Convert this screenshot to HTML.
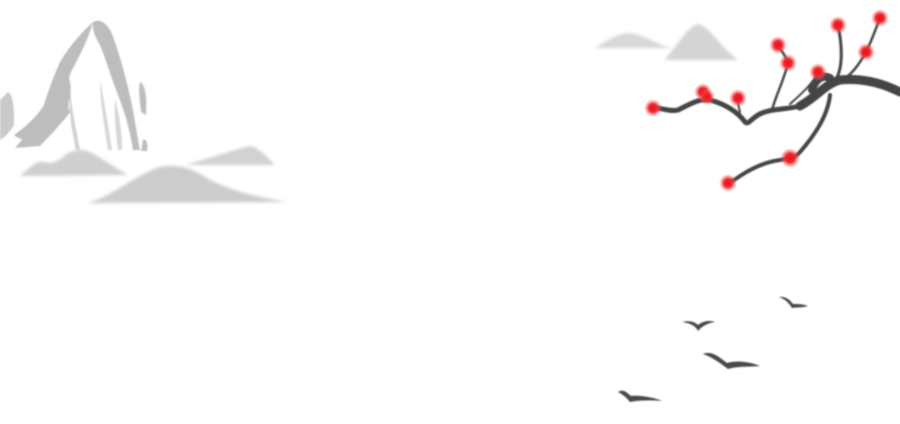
<!DOCTYPE html>
<html><head><meta charset="utf-8"><style>html,body{margin:0;padding:0;background:#fff;width:900px;height:424px;overflow:hidden}</style></head>
<body>
<svg width="900" height="424" viewBox="0 0 900 424" xmlns="http://www.w3.org/2000/svg">
<defs>
<filter id="b1"><feGaussianBlur stdDeviation="0.8"/></filter>
<filter id="b2"><feGaussianBlur stdDeviation="1.5"/></filter>
<radialGradient id="fl"><stop offset="0" stop-color="#e8101a"/><stop offset="0.45" stop-color="#ee2a30"/><stop offset="1" stop-color="#f66" stop-opacity="0"/></radialGradient>
</defs>
<!-- left big mountain -->
<g fill="#bdbdbd" filter="url(#b1)">
<path d="M93,22 C100,18 108,24 112,34 C120,55 128,85 133,110 C136,128 138,140 140,150 L133,150 C130,130 124,110 118,95 C112,80 106,60 100,45 C96,38 92,32 93,22Z"/>
<path d="M93,22 C84,30 70,45 60,62 C52,80 45,100 40,118 C30,130 22,140 15,148 L40,146 C50,135 62,125 68,110 C70,95 66,80 72,70 C80,55 88,40 93,22Z"/>
<path d="M60,62 C55,75 48,90 44,108 L52,112 C56,95 60,80 66,70Z"/>
<path d="M44,105 C36,118 24,128 14,135 C20,140 30,142 40,140 C52,132 62,124 70,112 C66,100 58,96 44,105Z"/>
<path d="M62,75 C70,72 72,85 70,100 L64,104 C62,92 60,82 62,75Z"/>
<path d="M140,82 C146,85 147,100 146,115 L141,112 C140,100 138,90 140,82Z"/>
<path d="M143,140 C147,138 148,145 147,151 L141,151Z"/>
<path d="M8,92 C14,96 14,110 14,125 C10,132 4,138 0,140 L0,100Z" opacity="0.8"/>
<path d="M70,90 C72,110 76,130 80,150 L76,150 C72,130 68,110 70,90Z" opacity="0.7"/>
<path d="M100,80 C104,100 108,125 112,150 L108,150 C104,125 100,100 100,80Z" opacity="0.6"/>
<path d="M115,100 C120,115 122,135 122,150 L118,150 C116,135 114,115 115,100Z" opacity="0.6"/>
</g>
<!-- hills -->
<g filter="url(#b2)">
<path d="M20,176 C30,168 36,160 44,162 C52,164 56,162 62,158 C70,150 80,148 90,152 C105,160 115,168 128,175Z" fill="#cfcfcf"/>
<path d="M185,165 C205,160 225,152 250,146 C260,148 268,158 275,165Z" fill="#d2d2d2"/>
<path d="M88,203 C115,195 135,175 160,167 C180,163 195,170 210,180 C235,192 260,198 288,202Z" fill="#cccccc"/>
<path d="M595,48 C605,42 615,34 630,33 C645,35 655,44 672,48Z" fill="#d8d8d8"/>
<path d="M664,60 C675,50 684,30 697,24 C710,26 718,45 738,60Z" fill="#d4d4d4"/>
</g>
<!-- branch -->
<g stroke="#444" fill="none" stroke-linecap="round" filter="url(#b1)">
<path d="M900,92 C880,82 860,78 840,80 C825,84 815,100 800,106 C785,110 770,108 758,115 C750,120 748,125 745,122 C738,112 725,104 710,100 C700,98 690,104 678,110 C670,112 662,108 655,108" stroke-width="5"/>
<path d="M900,92 C880,82 860,78 840,80 C825,84 818,96 800,106" stroke-width="9"/>
<path d="M830,78 C822,74 815,80 812,90" stroke-width="8"/>
<path d="M830,95 C828,115 815,135 800,152 C795,158 790,158 780,160 C765,162 752,168 740,176 C735,180 730,182 728,183" stroke-width="4"/>
<path d="M772,110 C776,95 784,80 788,63 C786,55 780,50 778,45" stroke-width="2.5"/>
<path d="M830,84 C840,80 845,60 838,25" stroke-width="3"/>
<path d="M848,76 C855,70 860,63 866,52 C872,40 876,28 880,18" stroke-width="2.5"/>
<path d="M790,104 C800,95 812,85 818,72" stroke-width="2"/>
<path d="M740,112 C738,106 738,100 738,98" stroke-width="2"/>
<path d="M703,92 L710,100" stroke-width="2"/>
</g>
<g fill="url(#fl)">
<circle cx="653" cy="108" r="9"/><circle cx="703" cy="92" r="9"/><circle cx="707" cy="97" r="8"/>
<circle cx="738" cy="98" r="9"/><circle cx="778" cy="45" r="9"/><circle cx="788" cy="63" r="9"/>
<circle cx="818" cy="72" r="9"/><circle cx="838" cy="25" r="9"/><circle cx="866" cy="52" r="9"/>
<circle cx="880" cy="18" r="9"/><circle cx="790" cy="158" r="10"/><circle cx="728" cy="183" r="9"/>
</g>
<!-- birds -->
<g fill="#4a4a4a" filter="url(#b1)">
<path d="M779,297 C786,296 790,300 793,304 C798,304 803,304 808,306 C802,308 796,307 792,308 C789,303 785,299 779,297Z"/>
<path d="M682,322 C690,320 695,322 698,325 C703,321 709,320 715,322 C708,323 702,326 698,331 C696,326 690,323 682,322Z"/>
<path d="M703,354 C712,350 720,358 727,363 C738,360 750,362 760,366 C750,367 738,366 728,369 C720,363 712,357 703,354Z"/>
<path d="M618,392 C624,388 628,394 631,396 C642,395 655,398 662,401 C652,400 640,400 630,402 C626,397 622,394 618,392Z"/>
</g>
</svg>
</body></html>
